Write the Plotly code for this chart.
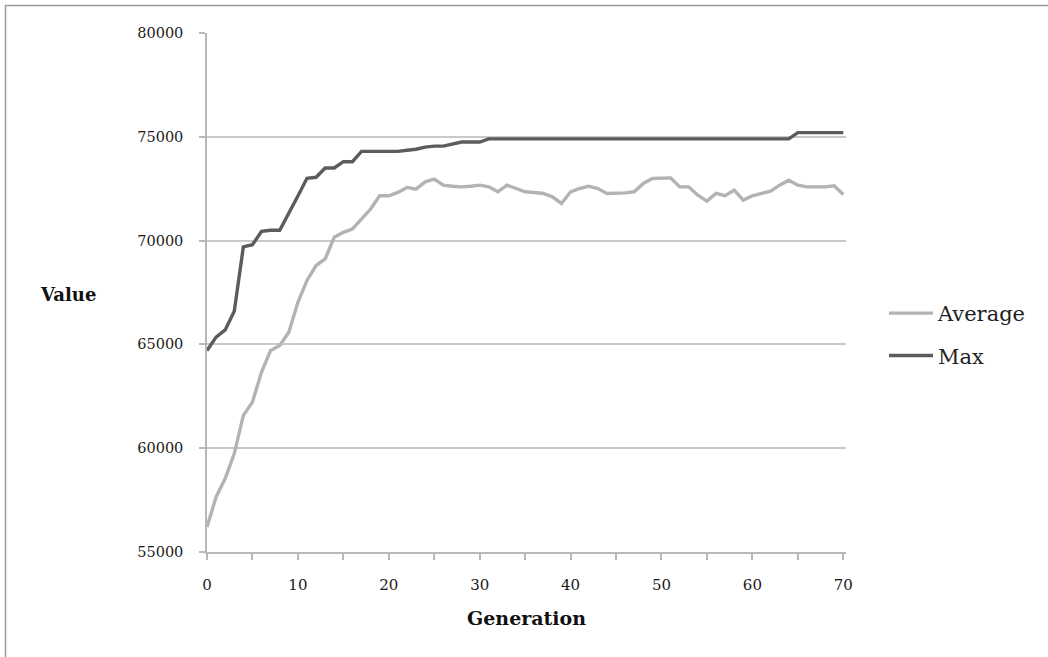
import plotly.graph_objects as go

generations = list(range(0, 71))

average = [56200, 57650, 58540, 59740, 61580, 62220, 63670, 64710, 64950, 65590,
           67030, 68080, 68800, 69120, 70160, 70400, 70560, 71040, 71520, 72160,
           72160, 72320, 72560, 72480, 72830, 72960, 72670, 72620, 72590, 72620,
           72670, 72590, 72350, 72670, 72510, 72350, 72320, 72270, 72110, 71790,
           72350, 72510, 72620, 72510, 72270, 72270, 72300, 72350, 72750, 72990,
           73020, 73020, 72590, 72590, 72190, 71900, 72270, 72160, 72430, 71950,
           72160, 72270, 72380, 72670, 72910, 72670, 72590, 72590, 72590, 72640,
           72220]

maximum = [64700, 65350, 65700, 66600, 69700, 69800, 70450, 70500, 70500, 71300,
           72150, 73000, 73050, 73500, 73500, 73800, 73800, 74300, 74300, 74300,
           74300, 74300, 74350, 74400, 74500, 74550, 74550, 74650, 74750, 74750,
           74750, 74900, 74900, 74900, 74900, 74900, 74900, 74900, 74900, 74900,
           74900, 74900, 74900, 74900, 74900, 74900, 74900, 74900, 74900, 74900,
           74900, 74900, 74900, 74900, 74900, 74900, 74900, 74900, 74900, 74900,
           74900, 74900, 74900, 74900, 74900, 75200, 75200, 75200, 75200, 75200,
           75200]

series_names = ["Average", "Max"]
x_tick_labels = ["0", "10", "20", "30", "40", "50", "60", "70"]
y_tick_labels = ["55000", "60000", "65000", "70000", "75000", "80000"]

FONT = "DejaVu Serif"
AXIS_GREY = "#b8b8b8"

fig = go.Figure()
fig.add_trace(go.Scatter(x=generations, y=average, mode="lines", name=series_names[0],
                         line=dict(color="#b3b3b3", width=3.4), legendgroup="a"))
fig.add_trace(go.Scatter(x=generations, y=maximum, mode="lines", name=series_names[1],
                         line=dict(color="#5c5c5c", width=3.4), legendgroup="b"))

W, H = 1048, 657
L, R, T, B = 207, 202, 33, 105
PW, PH = W - L - R, H - T - B


def px_x(p):
    return (p - L) / PW


def px_y(p):
    return 1 - (p - T) / PH


fig.update_layout(
    width=W, height=H,
    margin=dict(l=L, r=R, t=T, b=B),
    paper_bgcolor="white", plot_bgcolor="white",
    font=dict(family=FONT, size=14, color="#222222"),
    showlegend=True,
    legend=dict(x=px_x(884), y=px_y(293),
                xanchor="left", yanchor="top", traceorder="grouped",
                tracegroupgap=12, font=dict(family=FONT, size=21, color="#222222"),
                itemwidth=44, bgcolor="rgba(0,0,0,0)"),
    xaxis=dict(range=[0, 70.3], tickvals=[int(v) for v in x_tick_labels], ticktext=x_tick_labels,
               showgrid=False, zeroline=False, showline=True, linecolor=AXIS_GREY, linewidth=1.5,
               ticks="outside", ticklen=6, tickcolor=AXIS_GREY, tickwidth=1.5,
               ticklabelstandoff=12,
               minor=dict(dtick=5, ticks="outside", ticklen=6, tickcolor=AXIS_GREY, tickwidth=1.5, showgrid=False),
               tickfont=dict(family=FONT, size=15, color="#1a1a1a")),
    yaxis=dict(range=[55000, 80000], tickvals=[int(v) for v in y_tick_labels], ticktext=y_tick_labels,
               showgrid=True, gridcolor="#c9c9c9", gridwidth=1.5, zeroline=False,
               showline=True, linecolor=AXIS_GREY, linewidth=1.5,
               ticks="outside", ticklen=6, tickcolor=AXIS_GREY, tickwidth=1.5,
               ticklabelstandoff=13,
               tickfont=dict(family=FONT, size=14.5, color="#1a1a1a")),
    annotations=[
        dict(text="<b>Value</b>", xref="paper", yref="paper",
             x=px_x(68), y=px_y(294),
             xanchor="center", yanchor="middle", showarrow=False,
             font=dict(family=FONT, size=18, color="#111111")),
        dict(text="<b>Generation</b>", xref="paper", yref="paper",
             x=px_x(526), y=px_y(618),
             xanchor="center", yanchor="middle", showarrow=False,
             font=dict(family=FONT, size=19, color="#111111")),
    ],
    shapes=[
        dict(type="line", xref="paper", yref="paper",
             x0=px_x(5), x1=px_x(1060), y0=px_y(5.5), y1=px_y(5.5),
             line=dict(color="#9a9a9a", width=1.5)),
        dict(type="line", xref="paper", yref="paper",
             x0=px_x(5.5), x1=px_x(5.5), y0=px_y(5), y1=px_y(670),
             line=dict(color="#9a9a9a", width=1.5)),
    ],
)

fig.write_html("out.html", config={"displayModeBar": False},
               post_script="document.body.style.margin='0px';")
